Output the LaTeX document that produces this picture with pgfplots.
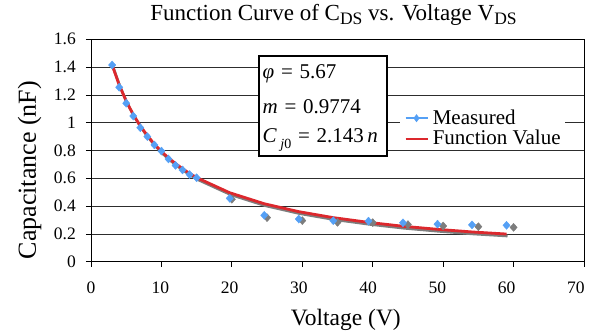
\documentclass[border=0pt]{standalone}
\usepackage{pgfplots}
\pgfplotsset{compat=1.18}
\usepackage{fontspec}
\setmainfont{Liberation Serif}
\definecolor{measblue}{RGB}{85,160,245}
\definecolor{funcred}{RGB}{220,40,45}
\definecolor{shadowgray}{RGB}{125,125,125}
\definecolor{gridc}{RGB}{45,45,45}
\pgfplotsset{
  measlegend/.style={legend image code/.code={\draw[##1, mark=none] (0pt,0pt) -- (22pt,0pt); \draw[##1, only marks] plot coordinates {(11pt,0pt)};}},
  funclegend/.style={legend image code/.code={\draw[##1] (0pt,0pt) -- (22pt,0pt);}},
}
\newcommand{\sub}[1]{\raisebox{-4pt}{\fontsize{17.5}{18}\selectfont #1}}
\begin{document}
\begin{tikzpicture}
\begin{axis}[
  at={(0,0)}, anchor=south west,
  scale only axis, width=493pt, height=222.4pt,
  xmin=0, xmax=70, ymin=0, ymax=1.6,
  xtick={0,10,20,30,40,50,60,70},
  xticklabels={0,10,20,30,40,50,60,70},
  ytick={0,0.2,0.4,0.6,0.8,1,1.2,1.4,1.6},
  yticklabels={0,0.2,0.4,0.6,0.8,1,1.2,1.4,1.6},
  ymajorgrids, grid style={gridc, line width=0.8pt},
  axis line style={black, line width=0.8pt},
  tick align=outside, tick pos=left, major tick length=5pt,
  tick style={black, line width=0.8pt},
  /pgf/number format/assume math mode=true,
  ticklabel style={font=\fontsize{17.5}{18}\selectfont},
  yticklabel style={anchor=east, inner sep=0pt, xshift=-10pt},
  xticklabel style={anchor=north, inner sep=0pt, yshift=-15pt, xshift=-1.15pt*\ticknum},
  every axis title shift=0pt,
  title={Function Curve of C\sub{DS} vs. Voltage V\sub{DS}},
  title style={at={(axis description cs:0.4919,1.0836)}, anchor=base, inner sep=0pt, font=\fontsize{23}{24}\selectfont},
  xlabel={Voltage (V)},
  xlabel style={at={(axis description cs:0.517,-0.2846)}, anchor=base, font=\fontsize{23.5}{24}\selectfont},
  ylabel={Capacitance (nF)},
  ylabel style={at={(axis description cs:-0.1116,0.412)}, anchor=base, font=\fontsize{26}{26}\selectfont},
  legend style={at={(axis description cs:0.6268,0.6911)}, anchor=north west, draw=none, fill=white,
    font=\fontsize{21}{22}\selectfont, inner xsep=4pt, inner ysep=1pt, row sep=2.7pt, column sep=4pt,
    nodes={inner sep=0pt, text height=15pt, text depth=3pt}},
  legend cell align=left,
]
% shadow of the function curve
\addplot[shadowgray, line width=2.6pt, xshift=1pt, yshift=-2pt, forget plot] coordinates {
(3,1.415) (4,1.272) (5,1.155) (6,1.058) (7,0.977) (8,0.907) (9,0.846) (10,0.793) (11,0.747) (12,0.706) (13,0.669) (14,0.635) (15,0.605) (19.7,0.496) (24.6,0.417) (29.5,0.360) (34.4,0.317) (39.4,0.283) (44.3,0.255) (49.2,0.233) (54.1,0.214) (59.0,0.199)};
% gray markers
\addplot[only marks, mark=diamond*, mark size=4pt, mark options={fill=shadowgray, draw=shadowgray, xscale=1.2}, forget plot] coordinates {
(20,0.449) (25,0.317) (30,0.296) (35,0.283) (40,0.281) (45,0.267) (50,0.257) (55,0.252) (60,0.247)};
% function value
\addplot[funcred, line width=2.8pt, forget plot] coordinates {
(3,1.415) (4,1.272) (5,1.155) (6,1.058) (7,0.977) (8,0.907) (9,0.846) (10,0.793) (11,0.747) (12,0.706) (13,0.669) (14,0.635) (15,0.605) (19.7,0.496) (24.6,0.417) (29.5,0.360) (34.4,0.317) (39.4,0.283) (44.3,0.255) (49.2,0.233) (54.1,0.214) (59.0,0.199)};
% measured
\addplot[only marks, mark=diamond*, mark size=4pt, mark options={fill=measblue, draw=measblue, xscale=1.2}, forget plot] coordinates {
(3,1.415) (4,1.255) (5,1.14) (6,1.048) (7,0.964) (8,0.90) (9,0.84) (10,0.796) (11,0.739) (12,0.693) (13,0.660) (14,0.627) (15,0.604) (19.7,0.456) (24.6,0.334) (29.5,0.307) (34.4,0.295) (39.4,0.292) (44.3,0.28) (49.2,0.27) (54.1,0.265) (59.0,0.262)};
\addlegendimage{measblue, line width=1.5pt, mark=diamond*, mark size=2.8pt, measlegend}
\addlegendentry{Measured}
\addlegendimage{funcred, line width=2.6pt, funclegend}
\addlegendentry{Function Value}
% parameter box
\node[draw=black, line width=2.4pt, fill=white, inner sep=0pt, outer sep=0pt,
  minimum width=127.5pt, minimum height=99.6pt, anchor=north west]
  at (axis description cs:0.3412,0.924) {};
\node[anchor=base west, inner sep=0pt, font=\fontsize{21}{22}\selectfont]
  at (axis description cs:0.3479,0.8246) {\textit{φ}\hspace{1.5pt} = \hspace{1.5pt}5.67};
\node[anchor=base west, inner sep=0pt, font=\fontsize{21}{22}\selectfont]
  at (axis description cs:0.3479,0.6673) {\textit{m}\hspace{1.5pt} = \hspace{1.5pt}0.9774};
\node[anchor=base west, inner sep=0pt, font=\fontsize{21}{22}\selectfont]
  at (axis description cs:0.3479,0.5351) {\textit{C}\,\raisebox{-6pt}{\fontsize{14}{14}\selectfont\textit{j}0}\hspace{1.5pt} = \hspace{1.5pt}2.143\,\textit{n}};
\end{axis}
\pgfresetboundingbox
\path (-91pt,-71.3pt) rectangle (509pt,261.7pt);
\end{tikzpicture}
\end{document}
